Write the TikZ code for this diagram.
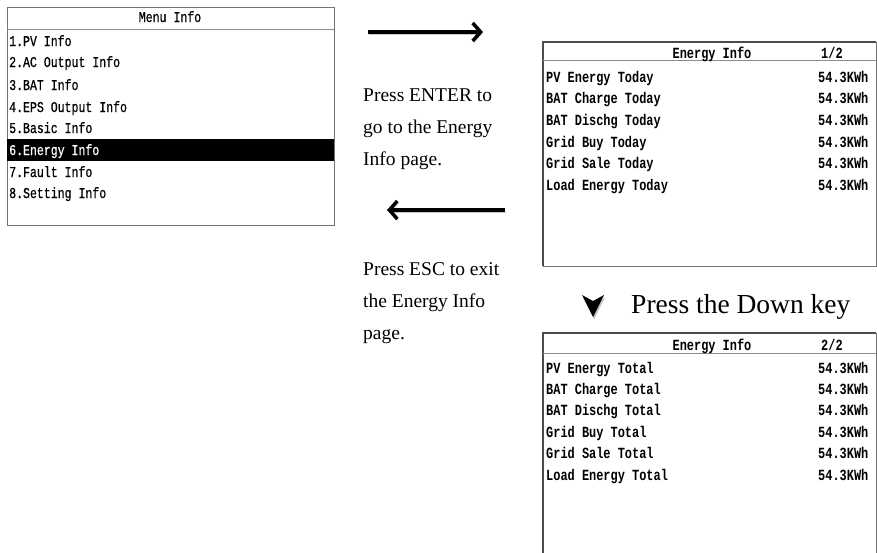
\documentclass[tikz,border=0pt]{standalone}
\usepackage{fontspec}
\setmainfont{Liberation Serif}
\newfontfamily\lcdfont[FakeStretch=0.77]{Liberation Mono}
\newfontfamily\menufont[FakeStretch=0.77, FakeBold=0.6]{Liberation Mono}
\usetikzlibrary{arrows.meta}
\begin{document}
\begin{tikzpicture}[
  x=1pt, y=-1pt,
  frame/.style={draw=black!55, line width=0.8pt},
  rowtxt/.style={font=\menufont\fontsize{15}{16}\selectfont, anchor=base west, inner sep=0pt},
  entxt/.style={font=\lcdfont\bfseries\fontsize{15.5}{16}\selectfont, anchor=base west, inner sep=0pt},
  note/.style={font=\fontsize{19.5}{32}\selectfont, align=left, anchor=west, inner sep=0pt},
  bigarrow/.style={line width=3.5pt, -{Straight Barb[length=8pt,width=18pt]},
    preaction={draw=black!22, transform canvas={shift={(1pt,-2.5pt)}}}}
]
\useasboundingbox (0,0) rectangle (877,552);
% ---------------- left: menu page ----------------
\draw[frame] (7,7) rectangle (334,225);
\draw[black!45] (7,29) -- (334,29);
\fill[black] (7,139) rectangle (334,161);
\node[rowtxt, anchor=base] (mhead) at (170,22) {Menu Info};
\node[rowtxt] (m1) at (9,46) {1.PV Info};
\node[rowtxt] (m2) at (9,67) {2.AC Output Info};
\node[rowtxt] (m3) at (9,90) {3.BAT Info};
\node[rowtxt] (m4) at (9,112) {4.EPS Output Info};
\node[rowtxt] (m5) at (9,133) {5.Basic Info};
\node[rowtxt, text=white] (m6) at (9,155) {6.Energy Info};
\node[rowtxt] (m7) at (9,177) {7.Fault Info};
\node[rowtxt] (m8) at (9,198) {8.Setting Info};
% ---------------- middle: keys ----------------
\coordinate (enterA) at (368,32);
\coordinate (enterB) at (483,32);
\coordinate (escA) at (505,210);
\coordinate (escB) at (387,210);
\draw[bigarrow] (enterA) -- (enterB);
\draw[bigarrow] (escA) -- (escB);
\node[note] (enter) at (363,129) {Press ENTER to\\go to the Energy\\Info page.};
\node[note] (esc) at (363,303) {Press ESC to exit\\the Energy Info\\page.};
% ---------------- right: energy page 1/2 ----------------
\draw[frame] (543,42) rectangle (876,266);
\draw[black!70, line width=1.8pt] (543,266) -- (543,42) -- (876,42);
\draw[black!45] (543,60) -- (876,60);
\node[entxt, anchor=base] (ehead) at (712,58) {Energy Info};
\node[entxt] (epage) at (821,58) {1/2};
\node[entxt] (t1) at (546,82) {PV Energy Today};
\node[entxt] (t2) at (546,103) {BAT Charge Today};
\node[entxt] (t3) at (546,125) {BAT Dischg Today};
\node[entxt] (t4) at (546,147) {Grid Buy Today};
\node[entxt] (t5) at (546,168) {Grid Sale Today};
\node[entxt] (t6) at (546,190) {Load Energy Today};
\node[entxt] (tv1) at (818,82) {54.3KWh};
\node[entxt] (tv2) at (818,103) {54.3KWh};
\node[entxt] (tv3) at (818,125) {54.3KWh};
\node[entxt] (tv4) at (818,147) {54.3KWh};
\node[entxt] (tv5) at (818,168) {54.3KWh};
\node[entxt] (tv6) at (818,190) {54.3KWh};
% ---------------- down key ----------------
\fill[black!22, shift={(1,2.5)}] (582,295) -- (593,301) -- (604,295) -- (593,317) -- cycle;
\fill[black] (582,295) -- (593,301) -- (604,295) -- (593,317) -- cycle;
\node[font=\fontsize{27.5}{30}\selectfont, anchor=west, inner sep=0pt] (down) at (631,307) {Press the Down key};
% ---------------- right: energy page 2/2 ----------------
\draw[frame] (543,553) -- (543,333) -- (876,333) -- (876,553);
\draw[black!70, line width=1.8pt] (543,553) -- (543,333) -- (876,333);
\draw[black!45] (543,353) -- (876,353);
\node[entxt, anchor=base] (shead) at (712,350) {Energy Info};
\node[entxt] (spage) at (821,350) {2/2};
\node[entxt] (s1) at (546,373) {PV Energy Total};
\node[entxt] (s2) at (546,394) {BAT Charge Total};
\node[entxt] (s3) at (546,415) {BAT Dischg Total};
\node[entxt] (s4) at (546,437) {Grid Buy Total};
\node[entxt] (s5) at (546,458) {Grid Sale Total};
\node[entxt] (s6) at (546,480) {Load Energy Total};
\node[entxt] (sv1) at (818,373) {54.3KWh};
\node[entxt] (sv2) at (818,394) {54.3KWh};
\node[entxt] (sv3) at (818,415) {54.3KWh};
\node[entxt] (sv4) at (818,437) {54.3KWh};
\node[entxt] (sv5) at (818,458) {54.3KWh};
\node[entxt] (sv6) at (818,480) {54.3KWh};
\end{tikzpicture}
\end{document}
